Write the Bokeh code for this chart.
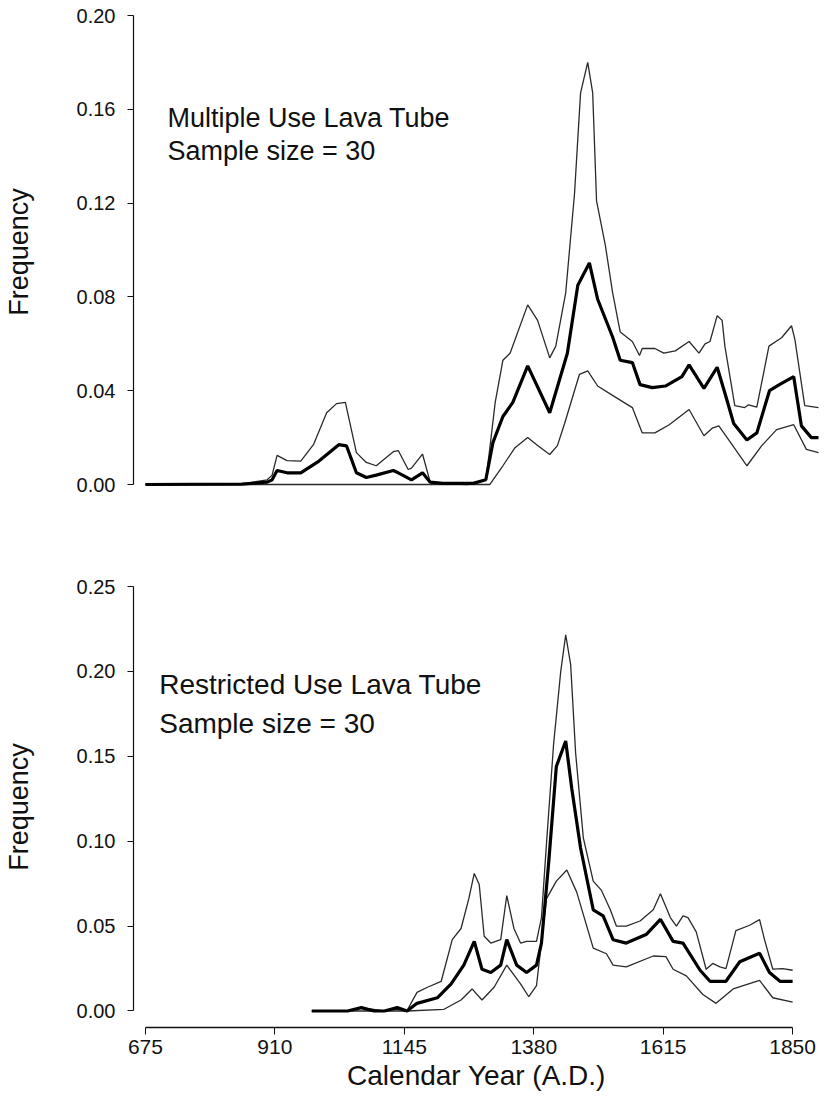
from bokeh.plotting import figure
from bokeh.layouts import column
from bokeh.models import Range1d, FixedTicker, Label, PrintfTickFormatter
from bokeh.embed import file_html
from bokeh.resources import INLINE

# ---------------- data ----------------
x_ticks = [675, 910, 1145, 1380, 1615, 1850]
top_y_ticks = [0.00, 0.04, 0.08, 0.12, 0.16, 0.20]
bot_y_ticks = [0.00, 0.05, 0.10, 0.15, 0.20, 0.25]

top_upper_year = [675, 850, 896, 905, 914, 932, 957, 980, 1004, 1022, 1038, 1058, 1076, 1094, 1125,
                  1134, 1152, 1158, 1178, 1192, 1215, 1260, 1293, 1300, 1310, 1324, 1337, 1369, 1387,
                  1409, 1420, 1438, 1454, 1465, 1478, 1487, 1494, 1510, 1523, 1537, 1559, 1572, 1577,
                  1600, 1616, 1637, 1662, 1680, 1691, 1700, 1713, 1722, 1727, 1745, 1763, 1770, 1785,
                  1807, 1830, 1848, 1854, 1872, 1897]
top_upper_val = [0, 0.0003, 0.002, 0.004, 0.0124, 0.0102, 0.010, 0.017, 0.0306, 0.0345, 0.035, 0.0136,
                 0.0094, 0.008, 0.0140, 0.0145, 0.0064, 0.007, 0.013, 0.001, 0.0003, 0, 0.002, 0.015,
                 0.035, 0.053, 0.056, 0.0766, 0.070, 0.054, 0.059, 0.0817, 0.124, 0.167, 0.180, 0.167,
                 0.121, 0.102, 0.082, 0.065, 0.061, 0.055, 0.058, 0.058, 0.056, 0.057, 0.061, 0.056,
                 0.060, 0.061, 0.072, 0.070, 0.059, 0.0336, 0.0328, 0.034, 0.033, 0.059, 0.0626,
                 0.0677, 0.062, 0.0336, 0.0328]

top_mean_year = [675, 850, 896, 905, 914, 932, 957, 990, 1026, 1040, 1058, 1076, 1094, 1125, 1134,
                 1158, 1178, 1192, 1215, 1270, 1293, 1306, 1324, 1342, 1369, 1409, 1441, 1460, 1481,
                 1496, 1523, 1537, 1559, 1573, 1595, 1619, 1649, 1662, 1689, 1713, 1727, 1743, 1767,
                 1785, 1808, 1826, 1852, 1866, 1884, 1897]
top_mean_val = [0, 0.0002, 0.001, 0.002, 0.006, 0.005, 0.005, 0.010, 0.017, 0.0165, 0.005, 0.003,
                0.004, 0.006, 0.005, 0.002, 0.005, 0.001, 0.0005, 0.0005, 0.002, 0.018, 0.029, 0.035,
                0.0506, 0.0306, 0.056, 0.085, 0.0945, 0.079, 0.063, 0.053, 0.052, 0.0426, 0.0413,
                0.042, 0.046, 0.051, 0.041, 0.050, 0.039, 0.026, 0.019, 0.022, 0.040, 0.0426, 0.046,
                0.025, 0.020, 0.020]

top_lower_year = [675, 1300, 1324, 1346, 1369, 1387, 1409, 1423, 1436, 1463, 1478, 1496, 1523, 1559,
                  1577, 1600, 1626, 1662, 1689, 1704, 1716, 1734, 1767, 1794, 1821, 1852, 1875, 1897]
top_lower_val = [0, 0, 0.008, 0.0157, 0.020, 0.0166, 0.0128, 0.0166, 0.026, 0.047, 0.0485, 0.042,
                 0.038, 0.0328, 0.022, 0.022, 0.0255, 0.032, 0.0208, 0.024, 0.025, 0.019, 0.008,
                 0.0166, 0.0234, 0.0255, 0.015, 0.0136]

bot_upper_year = [977, 1042, 1067, 1109, 1127, 1150, 1168, 1187, 1212, 1232, 1248, 1262, 1272, 1281,
                  1290, 1302, 1320, 1331, 1344, 1356, 1367, 1385, 1394, 1403, 1416, 1429, 1438, 1447,
                  1456, 1470, 1488, 1503, 1519, 1530, 1548, 1573, 1597, 1610, 1628, 1639, 1651, 1660,
                  1675, 1693, 1705, 1718, 1729, 1747, 1772, 1790, 1799, 1814, 1832, 1850]
bot_upper_val = [0, 0, 0.002, 0, 0.001, 0.0003, 0.011, 0.014, 0.0175, 0.042, 0.0486, 0.066, 0.081,
                 0.0745, 0.044, 0.040, 0.042, 0.068, 0.0486, 0.040, 0.041, 0.041, 0.055, 0.098, 0.157,
                 0.200, 0.2215, 0.204, 0.152, 0.102, 0.0765, 0.071, 0.0596, 0.050, 0.050, 0.053,
                 0.0596, 0.069, 0.055, 0.050, 0.056, 0.055, 0.0466, 0.0246, 0.028, 0.026, 0.025,
                 0.0473, 0.0505, 0.0538, 0.042, 0.0246, 0.025, 0.024]

bot_mean_year = [977, 1042, 1067, 1090, 1109, 1132, 1150, 1168, 1205, 1230, 1253, 1272, 1286, 1302,
                 1320, 1331, 1349, 1367, 1385, 1394, 1407, 1421, 1438, 1449, 1465, 1488, 1506, 1524,
                 1548, 1584, 1610, 1633, 1651, 1682, 1700, 1729, 1754, 1790, 1808, 1827, 1850]
bot_mean_val = [0, 0, 0.002, 0, 0, 0.002, 0, 0.0045, 0.0078, 0.016, 0.027, 0.041, 0.0246, 0.0227,
                0.027, 0.042, 0.027, 0.0227, 0.027, 0.040, 0.087, 0.144, 0.159, 0.131, 0.096, 0.0596,
                0.056, 0.042, 0.040, 0.045, 0.054, 0.041, 0.040, 0.024, 0.0175, 0.0175, 0.029, 0.034,
                0.0227, 0.0175, 0.0175]

bot_lower_year = [977, 1150, 1217, 1248, 1268, 1286, 1308, 1331, 1356, 1371, 1385, 1403, 1421, 1440,
                  1458, 1488, 1512, 1524, 1548, 1597, 1620, 1633, 1657, 1687, 1711, 1742, 1790, 1814, 1850]
bot_lower_val = [0, 0, 0.001, 0.0065, 0.013, 0.0065, 0.014, 0.027, 0.016, 0.0084, 0.015, 0.066,
                 0.0765, 0.083, 0.070, 0.037, 0.0337, 0.027, 0.026, 0.0324, 0.032, 0.0246, 0.0207,
                 0.0097, 0.0045, 0.013, 0.018, 0.0078, 0.0052]

top_title = ["Multiple Use Lava Tube", "Sample size = 30"]
bot_title = ["Restricted Use Lava Tube", "Sample size = 30"]

# ---------------- styling ----------------
FONT = "Liberation Sans"
INK = "#111111"
THIN = "#2a2a2a"
X_RANGE = (653.3, 1898.8)


def style_y(p, ticks, bounds):
    ax = p.yaxis[0]
    ax.ticker = FixedTicker(ticks=ticks)
    ax.formatter = PrintfTickFormatter(format="%.2f")
    ax.bounds = bounds
    ax.axis_line_color = INK
    ax.axis_line_width = 1.2
    ax.major_tick_line_color = INK
    ax.major_tick_in = 0
    ax.major_tick_out = 6
    ax.minor_tick_line_color = None
    ax.major_label_standoff = 12
    ax.major_label_text_font = FONT
    ax.major_label_text_font_size = "20px"
    ax.major_label_text_color = INK
    ax.axis_label = "Frequency"
    ax.axis_label_text_font = FONT
    ax.axis_label_text_font_size = "27px"
    ax.axis_label_text_font_style = "normal"
    ax.axis_label_text_color = INK
    ax.axis_label_standoff = 40


def base_fig(height, yr, top_b, bot_b):
    p = figure(width=819, height=height, x_range=Range1d(*X_RANGE), y_range=Range1d(*yr),
               output_backend="svg", toolbar_location=None,
               min_border_left=130, min_border_right=0,
               min_border_top=top_b, min_border_bottom=bot_b)
    p.outline_line_color = None
    p.grid.visible = False
    p.background_fill_color = "white"
    p.border_fill_color = "white"
    return p


def draw(p, uy, uv, my, mv, ly, lv):
    p.line(uy, uv, line_color=THIN, line_width=1.3)
    p.line(ly, lv, line_color=THIN, line_width=1.3)
    p.line(my, mv, line_color="black", line_width=3.2)


def add_titles(p, x, ys, texts, size):
    for y, t in zip(ys, texts):
        p.add_layout(Label(x=x, y=y, text=t, text_font=FONT, text_font_size=size,
                           text_color=INK, text_baseline="alphabetic", text_align="left"))


# top panel
p1 = base_fig(537, (-0.0017, 0.20), 15, 49)
draw(p1, top_upper_year, top_upper_val, top_mean_year, top_mean_val, top_lower_year, top_lower_val)
p1.xaxis.visible = False
style_y(p1, top_y_ticks, (0, 0.20))
add_titles(p1, 715, [0.1565, 0.1424], top_title, "27px")

# bottom panel
p2 = base_fig(562, (-0.00972, 0.25), 49, 72)
draw(p2, bot_upper_year, bot_upper_val, bot_mean_year, bot_mean_val, bot_lower_year, bot_lower_val)
style_y(p2, bot_y_ticks, (0, 0.25))
xa = p2.xaxis[0]
xa.ticker = FixedTicker(ticks=x_ticks)
xa.major_label_overrides = {t: str(t) for t in x_ticks}
xa.bounds = (675, 1850)
xa.axis_line_color = INK
xa.axis_line_width = 1.6
xa.major_tick_line_color = INK
xa.major_tick_in = 0
xa.major_tick_out = 7
xa.minor_tick_line_color = None
xa.major_label_standoff = 5
xa.major_label_text_font = FONT
xa.major_label_text_font_size = "21px"
xa.major_label_text_color = INK
xa.axis_label = "Calendar Year (A.D.)"
xa.axis_label_text_font = FONT
xa.axis_label_text_font_size = "28px"
xa.axis_label_text_font_style = "normal"
xa.axis_label_text_color = INK
xa.axis_label_standoff = 3
add_titles(p2, 700, [0.1923, 0.1695], bot_title, "28px")

layout = column(p1, p2, spacing=0)
open("out.html", "w").write(file_html(layout, INLINE))
